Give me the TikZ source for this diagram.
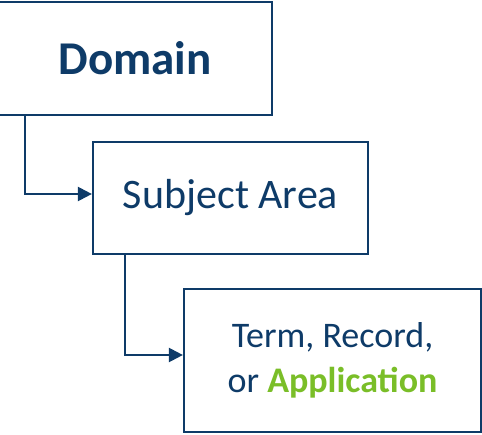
\documentclass[tikz,border=0pt]{standalone}
\usepackage{fontspec}
\setmainfont{Carlito}
\usetikzlibrary{arrows.meta}
\definecolor{navy}{RGB}{14,59,104}
\definecolor{appgreen}{RGB}{122,190,40}
\tikzset{
  box/.style={draw=navy, line width=2.2pt, fill=white, text=navy, align=center, inner sep=0pt},
  conn/.style={draw=navy, line width=2.2pt, -{Triangle[length=14pt,width=14pt]}}
}
\begin{document}
\begin{tikzpicture}[x=1pt,y=-1pt]
\useasboundingbox (0,0) rectangle (482,434);
\node[box, minimum width=274pt, minimum height=113pt, font=\fontsize{47}{56}\selectfont\bfseries] (dom) at (135,58.5) {Domain};
\node[box, minimum width=275pt, minimum height=112pt, font=\fontsize{42}{50}\selectfont] (sub) at (230.5,198) {Subject Area};
\node[box, minimum width=297pt, minimum height=143pt, font=\fontsize{36}{45}\selectfont] (term) at (332.5,360.5) {Term, Record,\\or \textcolor{appgreen}{\bfseries Application}};
\coordinate (c1) at (25,0);
\coordinate (c2) at (125,0);
\draw[conn] (c1 |- dom.south) |- ([yshift=4pt]sub.west);
\draw[conn] (c2 |- sub.south) |- ([yshift=5.5pt]term.west);
\end{tikzpicture}
\end{document}
